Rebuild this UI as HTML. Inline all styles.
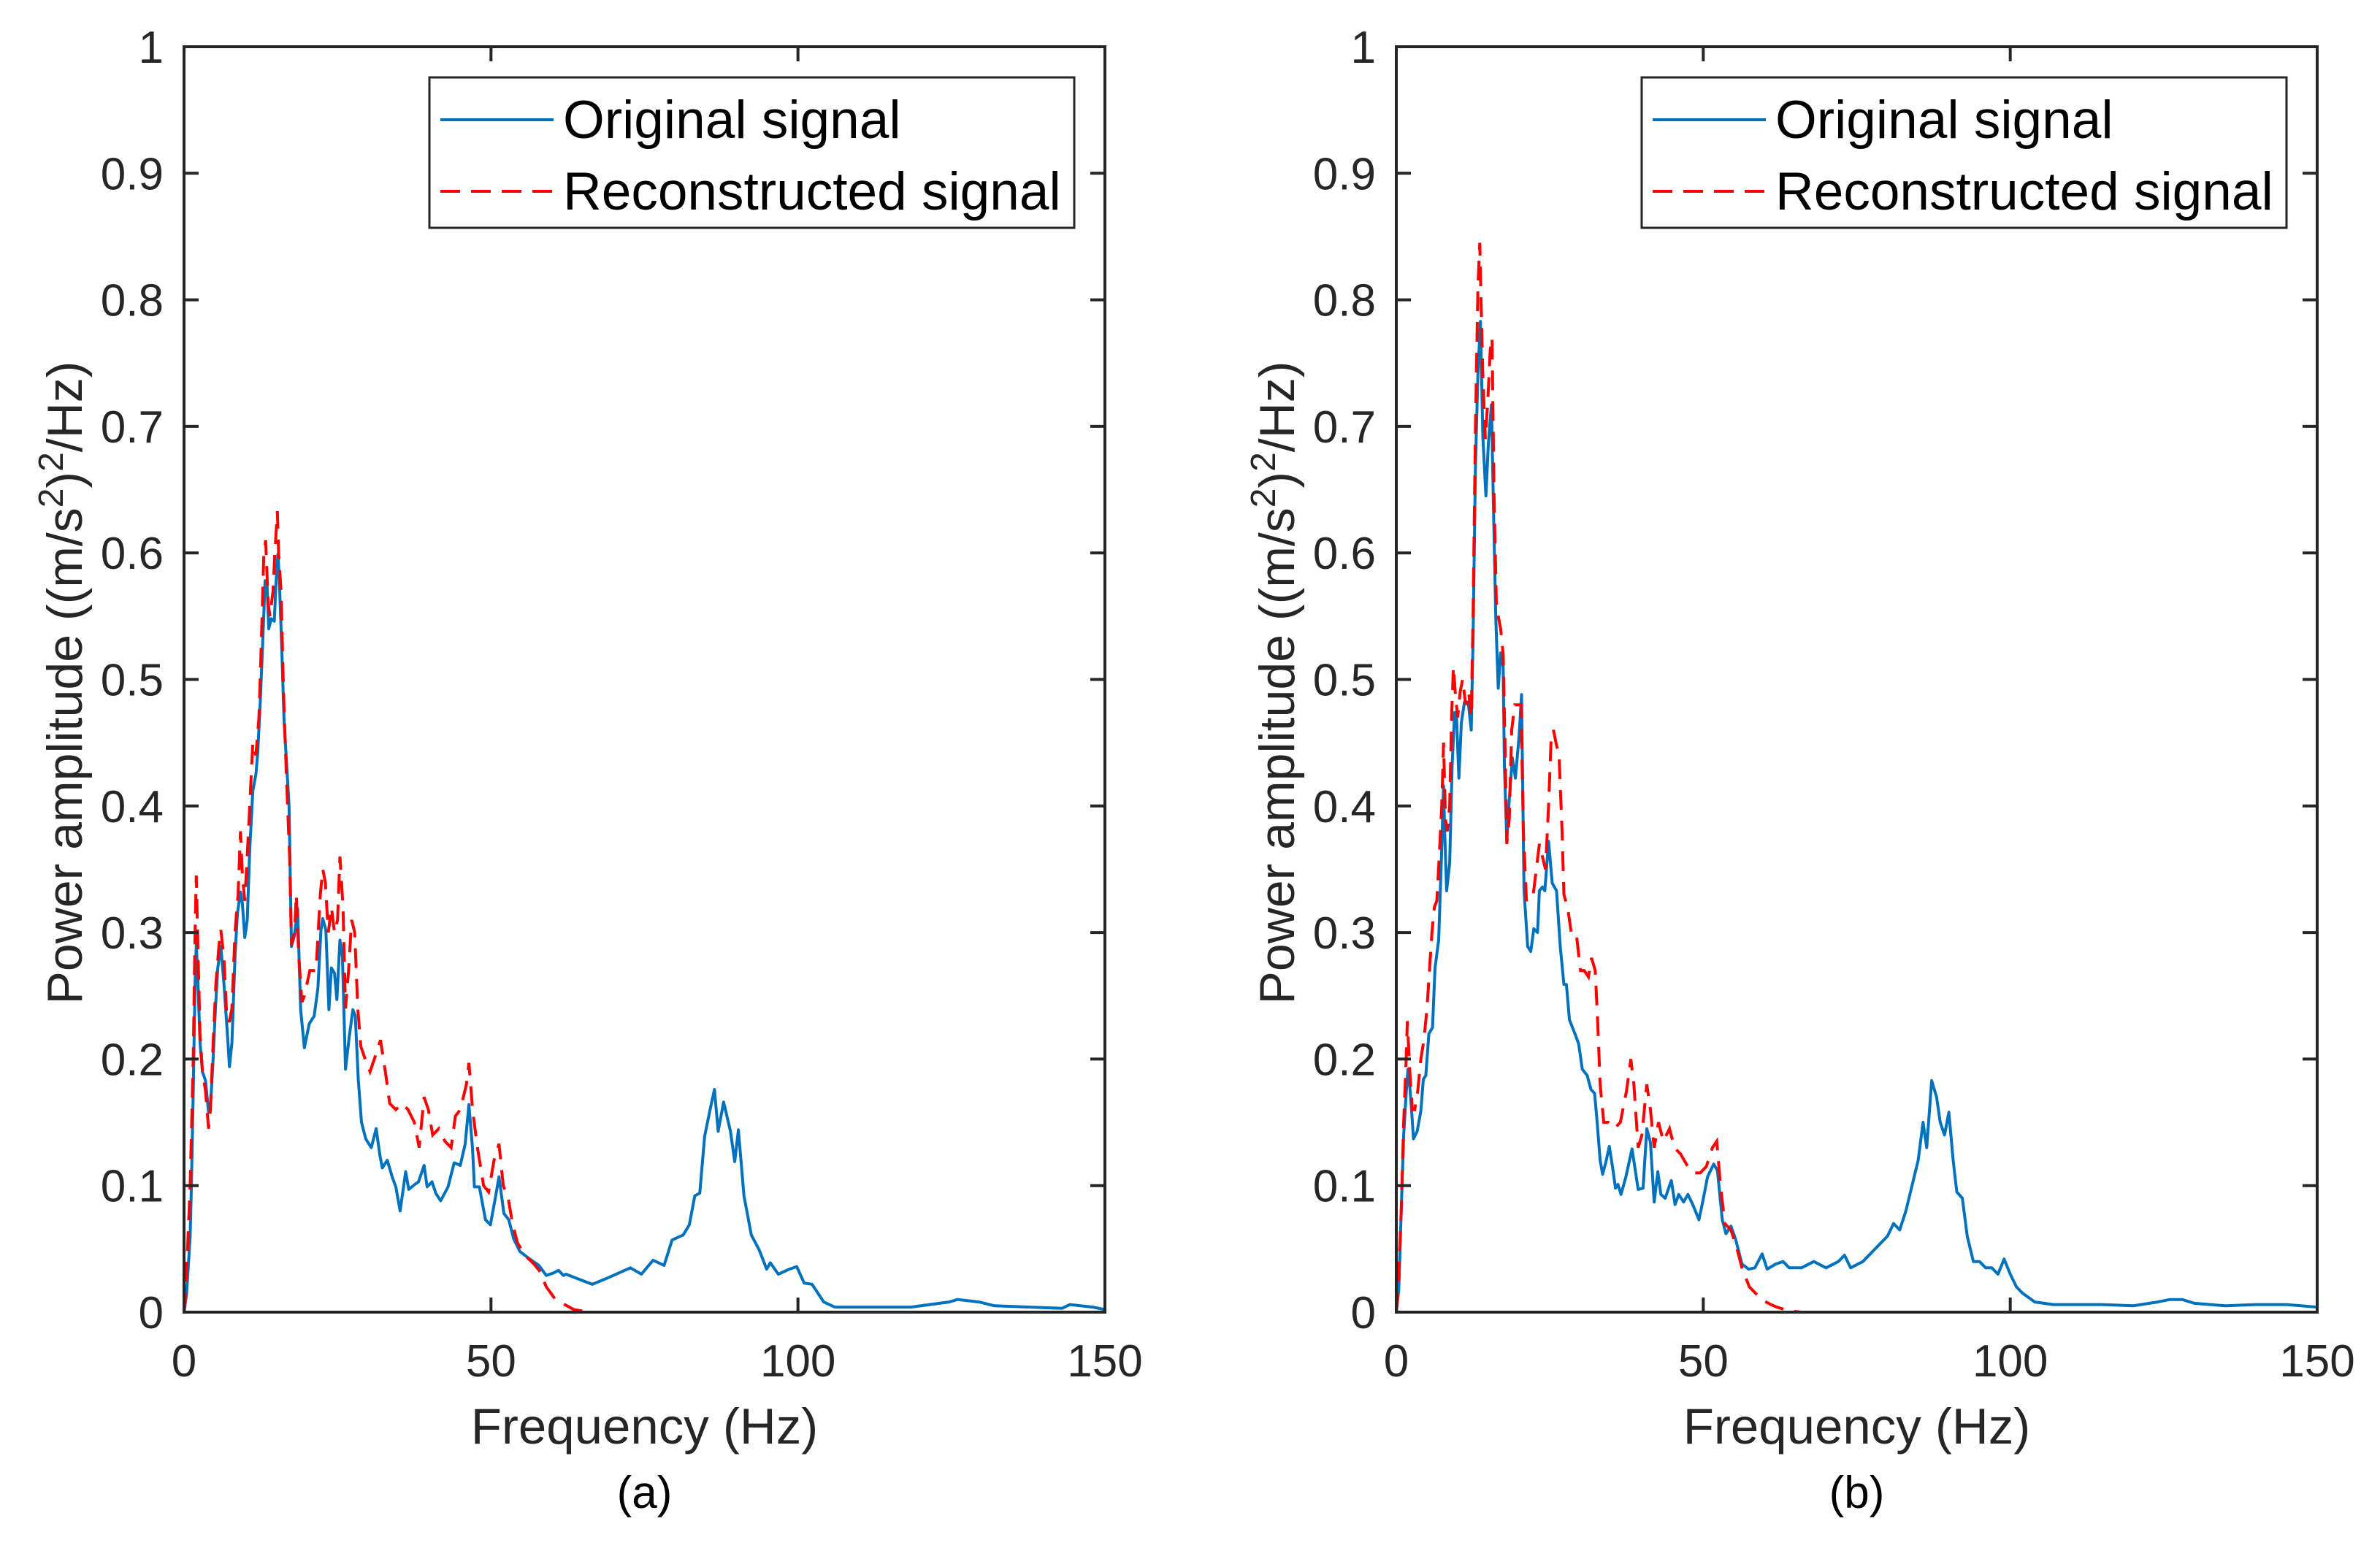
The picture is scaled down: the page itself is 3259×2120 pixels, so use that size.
<!DOCTYPE html>
<html><head><meta charset="utf-8"><style>
html,body{margin:0;padding:0;background:#fff;}
svg{display:block;font-family:"Liberation Sans",Arial,sans-serif;}
</style></head><body>
<svg id="fig" width="3259" height="2120" viewBox="0 0 3259 2120" xmlns="http://www.w3.org/2000/svg"></svg>
<script>
// ---- data (Hz, PSD) ----
const aOrigF=[0,0.4,1.0,1.2,1.5,1.8,2.0,2.2,2.6,3.0,3.5,4.0,4.3,4.7,5.1,5.5,6.0,6.5,7.1,7.4,7.8,8.3,8.7,9.2,9.5,9.9,10.3,10.7,11.2,11.7,12.0,12.4,12.8,13.2,13.5,13.8,14.2,14.7,15.0,15.3,15.5,15.9,16.3,16.7,17.1,17.5,18.0,18.5,19.0,19.6,20.4,21.2,21.8,22.3,22.6,23.1,23.6,24.0,24.5,24.9,25.4,25.8,26.3,26.9,27.5,27.9,28.4,28.9,29.6,30.5,31.3,31.9,32.3,33.1,33.9,34.5,35.2,36.1,36.6,37.6,38.2,39.1,39.6,40.4,41.0,41.8,43.0,44.0,45.0,45.8,46.4,47.0,47.3,48.1,49.1,49.9,50.7,51.3,52.1,52.9,53.7,54.7,56.3,57.8,59.0,60.2,61.0,61.8,62.2,66.5,69,72.7,74.5,76.4,78.2,79.5,81.3,82.3,83.2,84,84.8,85.6,86.4,87,87.9,89,89.7,90.3,91.2,92.4,93.7,94.9,95.5,96.8,98.6,99.8,101,102.3,104.2,106,118.4,124.6,126,129.5,132,143,144.3,148,150];
const aOrigV=[0,0.014,0.06,0.1,0.175,0.26,0.29,0.27,0.213,0.19,0.183,0.158,0.162,0.196,0.239,0.272,0.289,0.26,0.217,0.194,0.213,0.281,0.315,0.332,0.323,0.296,0.31,0.366,0.412,0.425,0.442,0.48,0.527,0.578,0.578,0.54,0.548,0.546,0.578,0.599,0.582,0.527,0.467,0.434,0.4,0.289,0.298,0.319,0.239,0.209,0.228,0.234,0.256,0.302,0.311,0.302,0.239,0.272,0.268,0.247,0.294,0.281,0.192,0.217,0.239,0.234,0.183,0.15,0.137,0.13,0.145,0.124,0.114,0.12,0.107,0.099,0.08,0.111,0.097,0.101,0.103,0.116,0.099,0.103,0.094,0.088,0.099,0.118,0.116,0.133,0.164,0.129,0.099,0.099,0.073,0.069,0.09,0.107,0.078,0.073,0.058,0.048,0.042,0.037,0.029,0.031,0.033,0.029,0.03,0.022,0.027,0.035,0.03,0.041,0.037,0.057,0.061,0.069,0.092,0.094,0.139,0.158,0.176,0.143,0.166,0.143,0.119,0.144,0.092,0.061,0.049,0.034,0.039,0.03,0.034,0.036,0.023,0.022,0.008,0.004,0.004,0.008,0.01,0.008,0.005,0.003,0.006,0.004,0.002];
const aRecF=[0,0.4,1.0,1.5,1.8,2.0,2.3,2.6,3.0,3.5,4.0,4.3,4.8,5.2,5.7,6.0,6.5,7.0,7.4,7.8,8.3,8.8,9.2,9.5,9.9,10.4,10.8,11.2,11.7,12.2,12.6,13.0,13.3,13.7,14.0,14.5,14.8,15.2,15.4,15.8,16.2,16.7,17.2,17.5,18.0,18.3,18.7,19.2,19.6,20.5,21.5,22.2,22.6,23.0,23.5,24,24.5,25.0,25.4,25.9,26.3,26.8,27.3,27.8,28.3,28.8,29.5,30.3,31.0,32.0,32.8,33.5,34.5,35.5,36.5,37.5,38.3,39.1,39.8,40.5,41.5,42.5,43.5,44.2,45,46,46.4,47,47.8,48.8,49.6,50.5,51.3,52,52.8,53.5,54.3,55.5,57,58,59,60.5,62,63.5,66,150];
const aRecV=[0,0.03,0.1,0.2,0.3,0.345,0.28,0.22,0.19,0.175,0.145,0.16,0.22,0.26,0.29,0.302,0.28,0.23,0.23,0.24,0.3,0.33,0.38,0.345,0.325,0.37,0.41,0.45,0.44,0.47,0.53,0.6,0.61,0.56,0.55,0.57,0.6,0.633,0.6,0.57,0.49,0.42,0.36,0.29,0.3,0.33,0.28,0.245,0.25,0.27,0.27,0.33,0.35,0.34,0.3,0.32,0.3,0.31,0.36,0.32,0.24,0.27,0.31,0.3,0.24,0.21,0.2,0.19,0.2,0.215,0.19,0.165,0.16,0.165,0.16,0.15,0.13,0.17,0.16,0.14,0.145,0.135,0.13,0.155,0.16,0.18,0.197,0.16,0.13,0.1,0.095,0.12,0.133,0.1,0.09,0.07,0.055,0.045,0.038,0.032,0.02,0.01,0.006,0.002,0,0];
const bOrigF=[0,0.4,0.8,1.2,1.6,1.9,2.2,2.5,2.8,3.4,4.0,4.4,4.8,5.3,5.9,6.3,6.9,7.4,7.7,7.9,8.2,8.7,9.1,9.5,9.8,10.2,10.6,11.1,11.7,12.2,12.5,12.9,13.3,13.7,14.1,14.6,15.0,15.5,15.8,16.2,16.6,17.0,17.4,17.6,18.0,18.4,18.9,19.4,20.0,20.4,20.8,21.4,21.9,22.4,23.0,23.3,23.8,24.2,24.8,25.4,26.1,26.7,27.3,27.7,28.2,29.1,29.7,30.3,31.1,31.7,32.3,32.7,33.2,33.6,34.1,34.7,35.3,35.7,36.1,36.6,37.4,38.4,39.4,40.2,40.8,41.4,42.0,42.6,43.1,43.8,44.8,45.4,46.0,46.8,47.5,48.3,49.3,49.9,50.7,51.7,52.3,53.1,53.7,54.5,55.3,56.3,57.4,58.4,59.6,60.4,61.8,63,64,66,68,70,72,73,74,76,78,80,81,82,83,84,85,85.8,86.4,87.2,88,88.6,89.3,90,90.7,91.3,92.2,93,94,95,96,97,98,99,100,101,102,104,107,115,120,124,126,128,130,135,140,145,150];
const bOrigV=[0,0.018,0.079,0.14,0.173,0.192,0.178,0.159,0.137,0.143,0.159,0.184,0.187,0.22,0.225,0.272,0.294,0.366,0.416,0.377,0.333,0.355,0.433,0.474,0.471,0.422,0.466,0.482,0.482,0.46,0.532,0.67,0.742,0.783,0.692,0.645,0.687,0.717,0.643,0.549,0.493,0.521,0.51,0.433,0.372,0.405,0.438,0.422,0.455,0.488,0.333,0.289,0.285,0.303,0.3,0.333,0.336,0.333,0.372,0.339,0.333,0.289,0.259,0.259,0.231,0.22,0.212,0.192,0.187,0.176,0.173,0.151,0.12,0.109,0.118,0.131,0.112,0.098,0.101,0.093,0.107,0.129,0.097,0.098,0.145,0.134,0.087,0.111,0.093,0.09,0.104,0.085,0.093,0.087,0.093,0.085,0.073,0.087,0.107,0.117,0.112,0.073,0.062,0.068,0.057,0.038,0.034,0.035,0.046,0.034,0.038,0.04,0.035,0.035,0.04,0.035,0.04,0.045,0.035,0.04,0.05,0.06,0.07,0.065,0.08,0.1,0.12,0.15,0.13,0.183,0.17,0.15,0.14,0.158,0.12,0.095,0.09,0.06,0.04,0.04,0.035,0.035,0.03,0.042,0.03,0.02,0.015,0.008,0.006,0.006,0.005,0.008,0.01,0.01,0.007,0.005,0.006,0.006,0.004];
const bRecF=[0,0.3,0.8,1.2,1.6,1.8,2.2,2.6,3.0,3.5,4.0,4.5,5.0,5.4,5.8,6.2,6.6,7.0,7.4,7.7,8.0,8.3,8.7,9.0,9.3,9.6,10.0,10.4,10.8,11.3,11.8,12.2,12.5,12.9,13.3,13.6,13.8,14.1,14.5,14.9,15.3,15.6,15.9,16.3,16.6,17.0,17.4,17.7,18.0,18.4,18.8,19.3,19.8,20.3,20.7,21.2,21.7,22.3,22.8,23.3,23.8,24.3,24.8,25.2,25.6,26.0,26.5,27.0,27.3,27.9,28.5,29.3,30.0,30.6,31.3,31.8,32.4,32.8,33.2,33.8,34.5,35.5,36.5,37.5,38.2,38.7,39.4,40.0,40.8,41.4,42.0,42.7,43.5,44.5,45.3,46.3,47.5,48.5,49.5,50.5,51.5,52.2,52.8,53.5,54.5,55.5,56.3,57.5,58.5,59.5,61,62,64,66,150];
const bRecV=[0,0.02,0.08,0.15,0.2,0.23,0.19,0.16,0.16,0.175,0.2,0.215,0.24,0.27,0.3,0.32,0.325,0.36,0.4,0.45,0.39,0.38,0.4,0.47,0.51,0.49,0.47,0.49,0.5,0.48,0.49,0.47,0.55,0.7,0.81,0.845,0.8,0.74,0.69,0.72,0.76,0.77,0.65,0.56,0.55,0.54,0.52,0.45,0.37,0.39,0.46,0.48,0.48,0.48,0.38,0.325,0.33,0.33,0.35,0.37,0.36,0.35,0.4,0.45,0.46,0.45,0.44,0.38,0.33,0.32,0.3,0.3,0.27,0.27,0.265,0.28,0.27,0.23,0.18,0.15,0.15,0.145,0.15,0.175,0.2,0.18,0.13,0.14,0.18,0.16,0.13,0.15,0.135,0.145,0.13,0.125,0.115,0.11,0.11,0.115,0.13,0.135,0.1,0.07,0.065,0.05,0.035,0.02,0.015,0.01,0.006,0.004,0.001,0,0];
const xTicks=[0,50,100,150];
const yTicks=[0,0.1,0.2,0.3,0.4,0.5,0.6,0.7,0.8,0.9,1];
const yTickLabels=["0","0.1","0.2","0.3","0.4","0.5","0.6","0.7","0.8","0.9","1"];

const NS="http://www.w3.org/2000/svg";
const svg=document.getElementById('fig');
const TXT="#262626";
function mk(tag,attrs,parent){const e=document.createElementNS(NS,tag);for(const k in attrs)e.setAttribute(k,attrs[k]);(parent||svg).appendChild(e);return e;}

function panel(id,L,origF,origV,recF,recV,caption){
  const T=64,B=1797,W=1261,H=B-T;
  const xs=f=>L+f/150*W, ys=v=>B-v*H;
  const g=mk('g',{});
  
  
  let d='';origF.forEach((f,i)=>{d+=(i?'L':'M')+xs(f).toFixed(1)+' '+ys(origV[i]).toFixed(1);});
  const p1=mk('path',{d:d,fill:'none',stroke:'#0072BD','stroke-width':4,'stroke-linejoin':'round'},g);
  
  
  d='';recF.forEach((f,i)=>{d+=(i?'L':'M')+xs(f).toFixed(1)+' '+ys(recV[i]).toFixed(1);});
  const p2=mk('path',{d:d,fill:'none',stroke:'#FF0000','stroke-width':4,'stroke-dasharray':'27 15'},g);
  
  
  const box=mk('rect',{x:L,y:T,width:W,height:H,fill:'none',stroke:TXT,'stroke-width':4},g);
  
  
  xTicks.forEach(t=>{
    const x=xs(t);
    mk('line',{x1:x,y1:B,x2:x,y2:B-20,stroke:TXT,'stroke-width':4},g);
    mk('line',{x1:x,y1:T,x2:x,y2:T+20,stroke:TXT,'stroke-width':4},g);
    const tl=mk('text',{x:x,y:1885,'font-size':62,fill:TXT,'text-anchor':'middle'},g);
    tl.textContent=String(t);
    
    
  });
  yTicks.forEach((t,i)=>{
    const y=ys(t);
    mk('line',{x1:L,y1:y,x2:L+20,y2:y,stroke:TXT,'stroke-width':4},g);
    mk('line',{x1:L+W,y1:y,x2:L+W-20,y2:y,stroke:TXT,'stroke-width':4},g);
    const tl=mk('text',{x:L-28,y:y+22,'font-size':62,fill:TXT,'text-anchor':'end'},g);
    tl.textContent=yTickLabels[i];
    
    
  });
  const xl=mk('text',{x:L+W/2,y:1977,'font-size':69,fill:TXT,'text-anchor':'middle'},g);
  xl.textContent='Frequency (Hz)';
  
  
  const yl=mk('text',{x:0,y:0,'font-size':68,fill:TXT,'text-anchor':'middle',transform:'translate('+(L-140)+',935) rotate(-90)'},g);
  yl.innerHTML='Power amplitude ((m/s<tspan font-size="48" dy="-26">2</tspan><tspan dy="26">)</tspan><tspan font-size="48" dy="-26">2</tspan><tspan dy="26">/Hz)</tspan>';
  
  
  const cap=mk('text',{x:L+W/2,y:2065,'font-size':62,fill:'#000','text-anchor':'middle'},g);
  cap.textContent=caption;
  
  
  const lx=L+336;
  const lg=mk('g',{},g);
  
  
  mk('rect',{x:lx,y:106,width:883,height:206,fill:'#fff',stroke:TXT,'stroke-width':3},lg);
  mk('line',{x1:lx+15,y1:164,x2:lx+170,y2:164,stroke:'#0072BD','stroke-width':4},lg);
  mk('line',{x1:lx+15,y1:262,x2:lx+170,y2:262,stroke:'#FF0000','stroke-width':4,'stroke-dasharray':'27 15'},lg);
  const t1=mk('text',{x:lx+183,y:189,'font-size':73,fill:'#000'},lg);
  t1.textContent='Original signal';
  
  
  const t2=mk('text',{x:lx+183,y:287,'font-size':73,fill:'#000'},lg);
  t2.textContent='Reconstructed signal';
  
  
}
panel('a',252,aOrigF,aOrigV,aRecF,aRecV,'(a)');
panel('b',1912,bOrigF,bOrigV,bRecF,bRecV,'(b)');
</script>
</body></html>
